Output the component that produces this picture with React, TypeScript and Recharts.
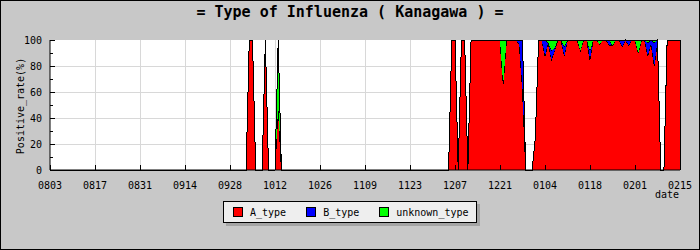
import { AreaChart, Area, XAxis, YAxis, CartesianGrid, ReferenceLine } from "recharts";

// day 0 = 08/03, one value per day, tick every 14 days
const tickLabels = ["0803", "0817", "0831", "0914", "0928", "1012", "1026", "1109", "1123", "1207", "1221", "0104", "0118", "0201", "0215"];

const aType = [
  0, 0, 0, 0, 0, 0, 0, 0, 0, 0, 0, 0, 0, 0,
  0, 0, 0, 0, 0, 0, 0, 0, 0, 0, 0, 0, 0, 0,
  0, 0, 0, 0, 0, 0, 0, 0, 0, 0, 0, 0, 0, 0,
  0, 0, 0, 0, 0, 0, 0, 0, 0, 0, 0, 0, 0, 0,
  0, 0, 0, 0, 0, 0, 100, 100, 0, 0, 0, 100, 0, 0,
  0, 50, 0, 0, 0, 0, 0, 0, 0, 0, 0, 0, 0, 0,
  0, 0, 0, 0, 0, 0, 0, 0, 0, 0, 0, 0, 0, 0,
  0, 0, 0, 0, 0, 0, 0, 0, 0, 0, 0, 0, 0, 0,
  0, 0, 0, 0, 0, 0, 0, 0, 0, 0, 0, 0, 0, 100,
  100, 0, 100, 100, 0, 100, 100, 100, 100, 100, 100, 100, 100, 100,
  100, 66, 100, 100, 100, 100, 97, 62, 0, 0, 0, 25, 100, 100,
  88, 98, 85, 92, 100, 100, 88, 100, 100, 100, 100, 92, 100, 100,
  85, 100, 100, 97, 100, 100, 96, 96, 100, 100, 95, 100, 96, 100,
  100, 90, 100, 100, 88, 98, 80, 100, 0, 0, 100, 100, 100, 100,
  100,
];

const bType = [
  0, 0, 0, 0, 0, 0, 0, 0, 0, 0, 0, 0, 0, 0,
  0, 0, 0, 0, 0, 0, 0, 0, 0, 0, 0, 0, 0, 0,
  0, 0, 0, 0, 0, 0, 0, 0, 0, 0, 0, 0, 0, 0,
  0, 0, 0, 0, 0, 0, 0, 0, 0, 0, 0, 0, 0, 0,
  0, 0, 0, 0, 0, 0, 0, 0, 0, 0, 0, 0, 0, 0,
  0, 0, 0, 0, 0, 0, 0, 0, 0, 0, 0, 0, 0, 0,
  0, 0, 0, 0, 0, 0, 0, 0, 0, 0, 0, 0, 0, 0,
  0, 0, 0, 0, 0, 0, 0, 0, 0, 0, 0, 0, 0, 0,
  0, 0, 0, 0, 0, 0, 0, 0, 0, 0, 0, 0, 0, 0,
  0, 0, 0, 0, 0, 0, 0, 0, 0, 0, 0, 0, 0, 0,
  0, 0, 0, 0, 0, 0, 3, 38, 0, 0, 0, 0, 0, 0,
  12, 0, 7, 2, 0, 0, 7, 0, 0, 0, 0, 0, 0, 0,
  7, 0, 0, 0, 0, 0, 4, 0, 0, 0, 5, 0, 4, 0,
  0, 0, 0, 0, 10, 2, 18, 0, 0, 0, 0, 0, 0, 0,
  0,
];

const unknownType = [
  0, 0, 0, 0, 0, 0, 0, 0, 0, 0, 0, 0, 0, 0,
  0, 0, 0, 0, 0, 0, 0, 0, 0, 0, 0, 0, 0, 0,
  0, 0, 0, 0, 0, 0, 0, 0, 0, 0, 0, 0, 0, 0,
  0, 0, 0, 0, 0, 0, 0, 0, 0, 0, 0, 0, 0, 0,
  0, 0, 0, 0, 0, 0, 0, 0, 0, 0, 0, 0, 0, 0,
  0, 50, 0, 0, 0, 0, 0, 0, 0, 0, 0, 0, 0, 0,
  0, 0, 0, 0, 0, 0, 0, 0, 0, 0, 0, 0, 0, 0,
  0, 0, 0, 0, 0, 0, 0, 0, 0, 0, 0, 0, 0, 0,
  0, 0, 0, 0, 0, 0, 0, 0, 0, 0, 0, 0, 0, 0,
  0, 0, 0, 0, 0, 0, 0, 0, 0, 0, 0, 0, 0, 0,
  0, 34, 0, 0, 0, 0, 0, 0, 0, 0, 0, 0, 0, 0,
  0, 2, 8, 6, 0, 0, 5, 0, 0, 0, 0, 8, 0, 0,
  8, 0, 0, 3, 0, 0, 0, 4, 0, 0, 0, 0, 0, 0,
  0, 10, 0, 0, 2, 0, 2, 0, 0, 0, 0, 0, 0, 0,
  0,
];

const yTicks = [0, 10, 20, 30, 40, 50, 60, 70, 80, 90, 100];

const data = aType.map((a, i) => ({ day: i, A_type: a, B_type: bType[i], unknown_type: unknownType[i] }));
const xTicks = tickLabels.map((_, i) => i * 14);

const FONT = "'DejaVu Sans Mono', monospace";
const COLORS = { A_type: "#ff0000", B_type: "#0000ff", unknown_type: "#00ff00" } as const;

function XTick({ x, y, payload }: any) {
  return (
    <g>
      <line x1={x} x2={x} y1={y - 5} y2={y} stroke="#000" shapeRendering="crispEdges" />
      <text x={x} y={y + 19} textAnchor="middle" fontSize={10} fontFamily={FONT} fill="#000">
        {tickLabels[Math.round(payload.value / 14)]}
      </text>
    </g>
  );
}

function YTick({ x, y, payload }: any) {
  const major = payload.value % 20 === 0;
  return (
    <g>
      <line x1={x} x2={x + (major ? 5 : 3)} y1={y} y2={y} stroke="#000" shapeRendering="crispEdges" />
      {major && (
        <text x={x - 8} y={y + 4} textAnchor="end" fontSize={10} fontFamily={FONT} fill="#000">
          {payload.value}
        </text>
      )}
    </g>
  );
}

export default function App() {
  return (
    <div
      style={{
        position: "absolute",
        left: 0,
        top: 0,
        width: 700,
        height: 250,
        background: "#c8c8c8",
        boxShadow: "inset 0 0 0 1px #000",
        fontFamily: FONT,
        color: "#000",
      }}
    >
      <div style={{ position: "absolute", left: 0, top: 3, width: 700, textAlign: "center", fontSize: 15, fontWeight: "bold" }}>
        = Type of Influenza ( Kanagawa ) =
      </div>

      <AreaChart width={700} height={250} data={data} margin={{ top: 40, right: 20, bottom: 0, left: 0 }} style={{ position: "absolute", left: 0, top: 0 }}>
        <CartesianGrid
          stroke="#d8d8d8"
          fill="#fff"
          fillOpacity={1}
          horizontalValues={[20, 40, 60, 80]}
          verticalValues={xTicks.slice(1, -1)}
          shapeRendering="crispEdges"
        />
        <XAxis
          type="number"
          dataKey="day"
          domain={[0, 196]}
          ticks={xTicks}
          height={80}
          tickSize={0}
          tickMargin={0}
          tick={<XTick />}
          axisLine={{ stroke: "#000" }}
          interval={0}
        />
        <YAxis
          domain={[0, 100]}
          ticks={yTicks}
          width={50}
          tickSize={0}
          tickMargin={0}
          tick={<YTick />}
          axisLine={{ stroke: "#000" }}
          interval={0}
        />
        <Area type="linear" dataKey="A_type" stackId="1" stroke="#000" strokeWidth={1} fill={COLORS.A_type} fillOpacity={1} shapeRendering="crispEdges" dot={false} activeDot={false} isAnimationActive={false} />
        <Area type="linear" dataKey="B_type" stackId="1" stroke="#000" strokeWidth={1} fill={COLORS.B_type} fillOpacity={1} shapeRendering="crispEdges" dot={false} activeDot={false} isAnimationActive={false} />
        <Area type="linear" dataKey="unknown_type" stackId="1" stroke="#000" strokeWidth={1} fill={COLORS.unknown_type} fillOpacity={1} shapeRendering="crispEdges" dot={false} activeDot={false} isAnimationActive={false} />
        <ReferenceLine x={196} stroke="#000" shapeRendering="crispEdges" />
      </AreaChart>

      <div
        style={{
          position: "absolute",
          left: 20,
          top: 106,
          fontSize: 10,
          whiteSpace: "nowrap",
          transform: "translate(-50%, -50%) rotate(-90deg)",
        }}
      >
        Positive_rate(%)
      </div>
      <div style={{ position: "absolute", right: 21, top: 189, fontSize: 10, lineHeight: "12px" }}>date</div>

      <div
        style={{
          position: "absolute",
          left: 223,
          top: 201,
          width: 254,
          height: 22,
          boxSizing: "border-box",
          background: "#eeeeee",
          border: "1px solid #000",
          boxShadow: "3px 3px 0 #a4a4a4",
          display: "flex",
          alignItems: "center",
          paddingLeft: 9,
          fontSize: 10,
        }}
      >
        {(["A_type", "B_type", "unknown_type"] as const).map((k) => (
          <div key={k} style={{ display: "flex", alignItems: "center", marginRight: 20 }}>
            <span style={{ width: 10, height: 10, boxSizing: "border-box", border: "1px solid #000", background: COLORS[k], marginRight: 7 }} />
            <span>{k}</span>
          </div>
        ))}
      </div>
    </div>
  );
}
